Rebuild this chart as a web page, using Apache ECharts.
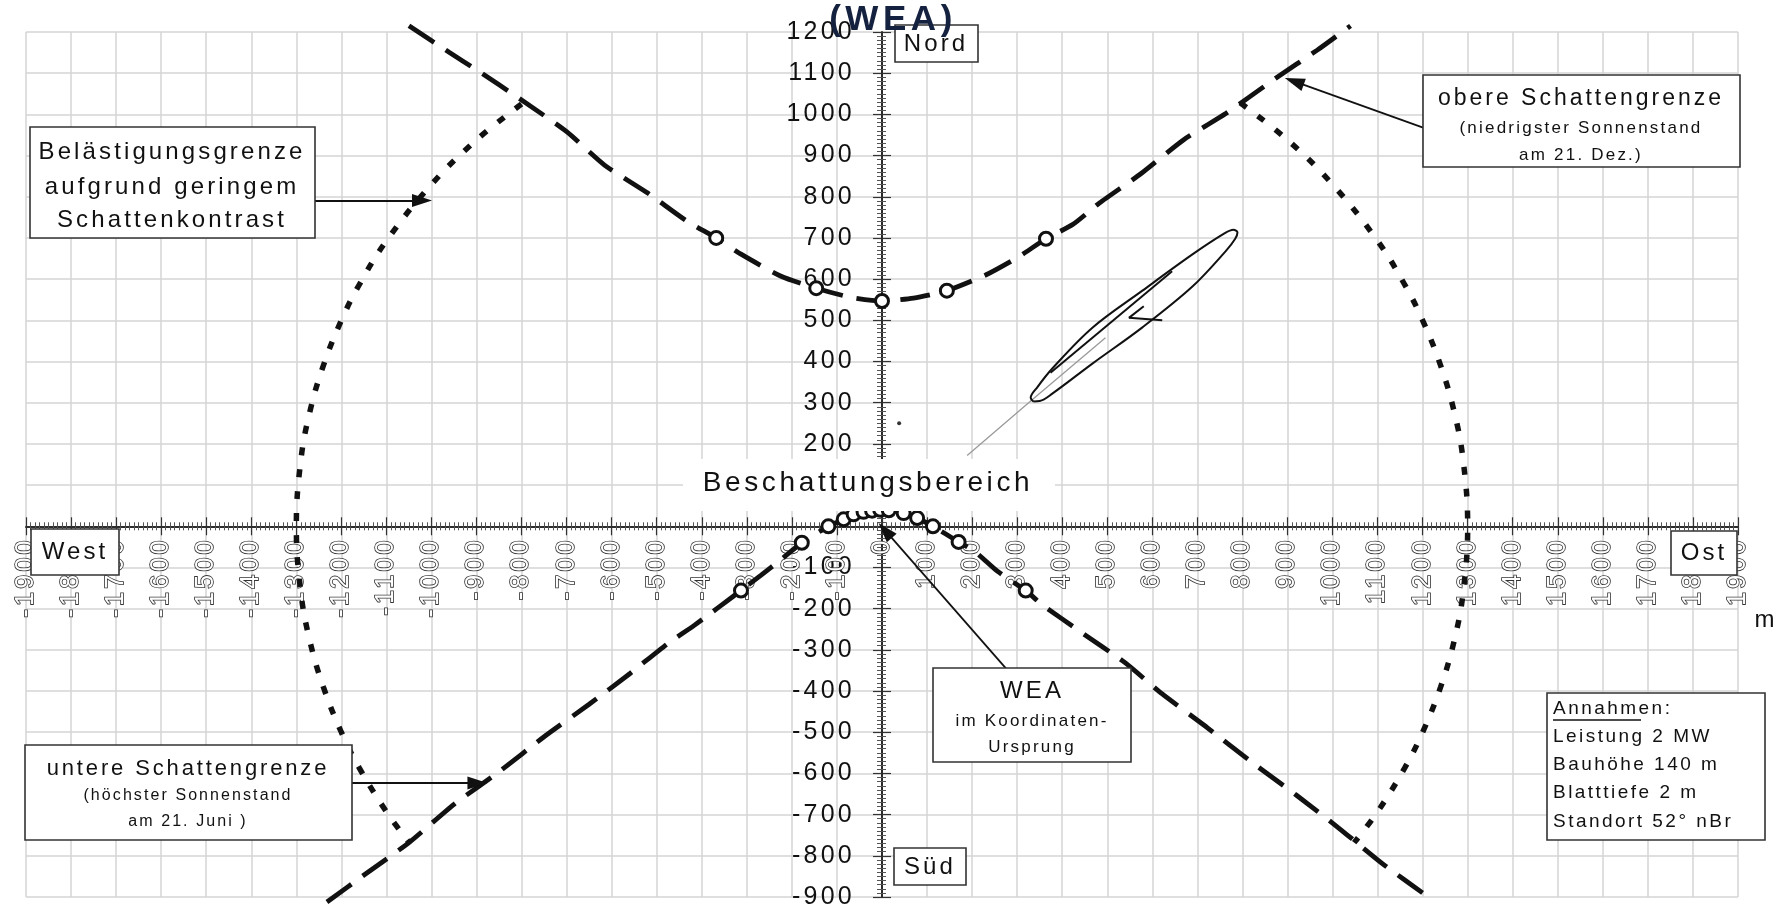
<!DOCTYPE html>
<html><head><meta charset="utf-8">
<script src="https://cdn.jsdelivr.net/npm/echarts@6/dist/echarts.min.js"></script>
<style>html,body{margin:0;padding:0;background:#fff}#c{width:1785px;height:905px}</style>
</head><body><div id="c"></div>
<script>
// letter spacing similar to the printed original (applied to all canvas text)
(function(){
  var P = CanvasRenderingContext2D.prototype;
  if (!('letterSpacing' in P)) return;
  function ls(ctx){ var m=/(\d+(?:\.\d+)?)px/.exec(ctx.font||''); var s=m?parseFloat(m[1]):12; ctx.letterSpacing=(s*0.13).toFixed(2)+'px'; }
  ['fillText','strokeText','measureText'].forEach(function(n){ var o=P[n]; P[n]=function(){ ls(this); return o.apply(this, arguments); }; });
})();

// ---- axis ranges / ticks (m) ----
const xMin = -1900, xMax = 1900, yMin = -900, yMax = 1200, tickStep = 100;

// ---- obere Schattengrenze (21. Dez.) ----
const upperLimit = [[-1050,1215],[-960,1150],[-900,1108],[-800,1035],[-700,958],[-616,877],[-520,809],[-432,740],[-368,700],[-312,660],[-224,607],[-146,578],[-70,556],[0,547],[70,554],[144,572],[230,610],[300,652],[364,698],[424,733],[483,785],[576,857],[669,938],[763,1002],[873,1087],[966,1156],[1040,1215]];
const upperMarks = [[-368,700],[-146,578],[0,547],[144,572],[364,698]];

// ---- untere Schattengrenze (21. Juni) ----
const lowerLimit = [[-1232,-912],[-1145,-843],[-1050,-768],[-950,-675],[-850,-596],[-750,-511],[-650,-432],[-560,-358],[-476,-285],[-416,-240],[-313,-156],[-269,-119],[-222,-79],[-178,-40],[-119,0],[-85,17],[-63,29],[-41,35],[-22,38],[-4,40],[15,39],[48,32],[78,20],[113,0],[170,-38],[207,-62],[256,-109],[319,-156],[355,-190],[443,-258],[538,-330],[622,-407],[721,-488],[821,-573],[920,-653],[1020,-738],[1112,-820],[1215,-902]];
const lowerMarks = [[-313,-156],[-178,-40],[-119,0],[-85,17],[-63,29],[-41,35],[-22,38],[-4,40],[15,39],[48,32],[78,20],[113,0],[170,-38],[319,-156]];

// ---- Belästigungsgrenze (ca. 1300 m) ----
const limitWest = [[-800,1025],[-900,938],[-1000,830],[-1100,693],[-1160,587],[-1200,500],[-1240,390],[-1270,278],[-1290,160],[-1300,0],[-1290,-160],[-1270,-278],[-1240,-390],[-1200,-500],[-1160,-587],[-1100,-693],[-1050,-767]];
const limitEast = [[795,1028],[900,938],[1000,830],[1100,693],[1160,587],[1200,500],[1240,390],[1270,278],[1290,160],[1300,0],[1290,-160],[1270,-278],[1240,-390],[1200,-500],[1160,-587],[1100,-693],[1048,-768]];

// ---- Rotorschatten-Skizze ----
const bladeOutline = [[336,303],[330,312],[345,338],[378,383],[467,482],[578,572],[689,660],[760,711],[780,720],[789,713],[784,698],[763,668],[689,582],[578,483],[467,395],[378,322],[350,304],[336,303]];
const bladeAxis = [[374,373],[644,619]];
const bladeBranchA = [[548,506],[622,500]];
const bladeBranchB = [[548,506],[581,534]];
const sunRay = [[189,172],[332,306],[496,458]];
const smallDot = [[38,250]];

// ---- Pfeile (von, nach) ----
const arrows = [
  [[-1259,791],[-1021,791]],
  [[1201,968],[915,1080]],
  [[276,-346],[7,-10]],
  [[-1304,-623],[-898,-623]]
];

const W = 1785, H = 905;
const G = {left:26, right:47, top:32, bottom:8};
const zeroY = G.top + (yMax/(yMax-yMin))*(H-G.top-G.bottom);
const zeroX = G.left + ((0-xMin)/(xMax-xMin))*(W-G.left-G.right);

const FONT = '"Liberation Sans", Arial, Helvetica, sans-serif';
const chart = echarts.init(document.getElementById('c'), null, {renderer:'canvas'});

function lineSeries(data, style, extra){
  return Object.assign({type:'line', data:data, showSymbol:false, symbol:'none', clip:false, silent:true,
    lineStyle:style, z:3, animation:false}, extra||{});
}
function txt(t, x, y, size, opts){
  opts = opts||{};
  return {type:'text', x:x, y:y, z:opts.z||101, silent:true,
    style:{text:t, font:(opts.bold?'bold ':'')+size+'px '+FONT, fill:opts.color||'#111',
      align:opts.align||'center', verticalAlign:'middle', textAlign:opts.align||'center', textVerticalAlign:'middle'}};
}
function rect(x,y,w,h,opts){
  opts=opts||{};
  return {type:'rect', z:opts.z||100, silent:true, shape:{x:x,y:y,width:w,height:h},
    style:{fill:'#fff', stroke:opts.noStroke?null:'#333', lineWidth:opts.noStroke?0:1.6}};
}

const graphics = [
  rect(683,459,372,52,{noStroke:true}),
  txt('Beschattungsbereich', 868, 483, 28),
  txt('(WEA)', 893, 20, 35, {bold:true, color:'#14213f', z:102}),
  rect(895,25,83,37), txt('Nord', 936, 44, 24),
  rect(894,848,72,37), txt('Süd', 930, 867, 24),
  rect(31,529,88,46), txt('West', 75, 552, 24),
  rect(1671,531,66,44), txt('Ost', 1704, 553, 24),
  rect(30,127,285,111),
  txt('Belästigungsgrenze', 172, 152, 24),
  txt('aufgrund geringem', 172, 187, 24),
  txt('Schattenkontrast', 172, 220, 24),
  rect(1423,75,317,92),
  txt('obere Schattengrenze', 1581, 99, 23),
  txt('(niedrigster Sonnenstand', 1581, 128, 17),
  txt('am 21. Dez.)', 1581, 155, 17),
  rect(933,668,198,94),
  txt('WEA', 1032, 691, 24),
  txt('im Koordinaten-', 1032, 721, 17),
  txt('Ursprung', 1032, 747, 17),
  rect(25,745,327,95),
  txt('untere Schattengrenze', 188, 769, 22),
  txt('(höchster Sonnenstand', 188, 796, 16),
  txt('am 21. Juni )', 188, 822, 16),
  rect(1547,693,218,147),
  txt('Annahmen:', 1553, 709, 19, {align:'left'}),
  {type:'line', z:102, silent:true, shape:{x1:1553,y1:720,x2:1641,y2:720}, style:{stroke:'#111', lineWidth:1.3}},
  txt('Leistung 2 MW', 1553, 737, 19, {align:'left'}),
  txt('Bauhöhe 140 m', 1553, 765, 19, {align:'left'}),
  txt('Blatttiefe 2 m', 1553, 793, 19, {align:'left'}),
  txt('Standort 52° nBr', 1553, 822, 19, {align:'left'}),
  txt('m', 1766, 620, 24)
];

const tickLine = {show:true, length:9, lineStyle:{color:'#333', width:1.2}};
const minorLine = {show:true, splitNumber:10, length:4, lineStyle:{color:'#555', width:1}};
const axLine = {show:true, onZero:true, lineStyle:{color:'#222', width:1.6}};
const hidden = {axisLine:{show:false}, axisTick:{show:false}, minorTick:{show:false}, axisLabel:{show:false}, splitLine:{show:false}};

const option = {
  animation:false,
  backgroundColor:'#fff',
  grid:[
    {left:G.left, right:G.right, top:G.top, bottom:G.bottom, containLabel:false, outerBoundsMode:'none'},
    {left:G.left, right:G.right, top:G.top, bottom:H-zeroY, containLabel:false, outerBoundsMode:'none'},
    {left:zeroX, right:G.right, top:G.top, bottom:G.bottom, containLabel:false, outerBoundsMode:'none'}
  ],
  xAxis:[
    {gridIndex:0, type:'value', min:xMin, max:xMax, interval:tickStep, position:'bottom',
      axisLine:axLine, axisTick:tickLine, minorTick:minorLine, axisLabel:{show:false},
      splitLine:{show:true, lineStyle:{color:'#d5d5d5', width:1.5}}},
    Object.assign({gridIndex:0, type:'value', min:xMin, max:xMax, interval:tickStep, position:'top'}, hidden,
      {axisLine:axLine, axisTick:tickLine, minorTick:minorLine}),
    Object.assign({gridIndex:1, type:'value', min:xMin, max:xMax, interval:tickStep, position:'bottom'}, hidden,
      {axisLabel:{show:true, rotate:90, margin:11, fontSize:25, fontFamily:FONT,
        color:'#ffffff', textBorderColor:'#333', textBorderWidth:1.6,
        formatter:function(v){ return String(v); }}}),
    Object.assign({gridIndex:2, type:'value', min:0, max:1}, hidden)
  ],
  yAxis:[
    {gridIndex:0, type:'value', min:yMin, max:yMax, interval:tickStep, position:'left',
      axisLine:axLine, axisTick:tickLine, minorTick:Object.assign({}, minorLine, {length:5}), axisLabel:{show:false},
      splitLine:{show:true, lineStyle:{color:'#d5d5d5', width:1.5}}},
    Object.assign({gridIndex:0, type:'value', min:yMin, max:yMax, interval:tickStep, position:'right'}, hidden,
      {axisLine:axLine, axisTick:tickLine, minorTick:minorLine}),
    Object.assign({gridIndex:1, type:'value', min:0, max:1}, hidden),
    Object.assign({gridIndex:2, type:'value', min:yMin, max:yMax, interval:tickStep, position:'left'}, hidden,
      {axisLabel:{show:true, margin:27, fontSize:25, fontFamily:FONT, color:'#111',
        formatter:function(v){ return v===0 ? '' : String(v); }}})
  ],
  graphic:{elements:graphics},
  series:[
    lineSeries(limitWest, {color:'#111', width:5.5, type:[8,14], cap:'butt'}, {smooth:0.4}),
    lineSeries(limitEast, {color:'#111', width:5.5, type:[8,14], cap:'butt'}, {smooth:0.4}),
    lineSeries(upperLimit, {color:'#111', width:4.8, type:[30,14], cap:'butt'}, {smooth:0.2}),
    lineSeries(lowerLimit, {color:'#111', width:4.8, type:[30,14], cap:'butt'}, {smooth:0.2}),
    lineSeries(bladeOutline, {color:'#111', width:2}, {smooth:0.35}),
    lineSeries(bladeAxis, {color:'#111', width:2}),
    lineSeries(bladeBranchA, {color:'#111', width:2}),
    lineSeries(bladeBranchB, {color:'#111', width:2}),
    lineSeries(sunRay, {color:'#9a9a9a', width:1.3}, {z:2}),
    {type:'scatter', data:upperMarks, symbol:'circle', symbolSize:13, clip:false, silent:true, z:4,
      itemStyle:{color:'#fff', opacity:1, borderColor:'#111', borderWidth:3}},
    {type:'scatter', data:lowerMarks, symbol:'circle', symbolSize:13, clip:false, silent:true, z:4,
      itemStyle:{color:'#fff', opacity:1, borderColor:'#111', borderWidth:3}},
    {type:'scatter', data:smallDot, symbol:'circle', symbolSize:4, silent:true, z:4,
      itemStyle:{color:'#333', opacity:1}},
    {type:'line', data:[], silent:true, z:200, zlevel:1,
      markLine:{silent:true, animation:false, symbol:['none','triangle'], symbolSize:[13,20],
        label:{show:false}, emphasis:{disabled:true},
        lineStyle:{color:'#111', width:1.8, type:'solid'},
        data:arrows.map(function(a){ return [{coord:a[0]},{coord:a[1]}]; })}}
  ]
};
chart.setOption(option);
</script></body></html>
